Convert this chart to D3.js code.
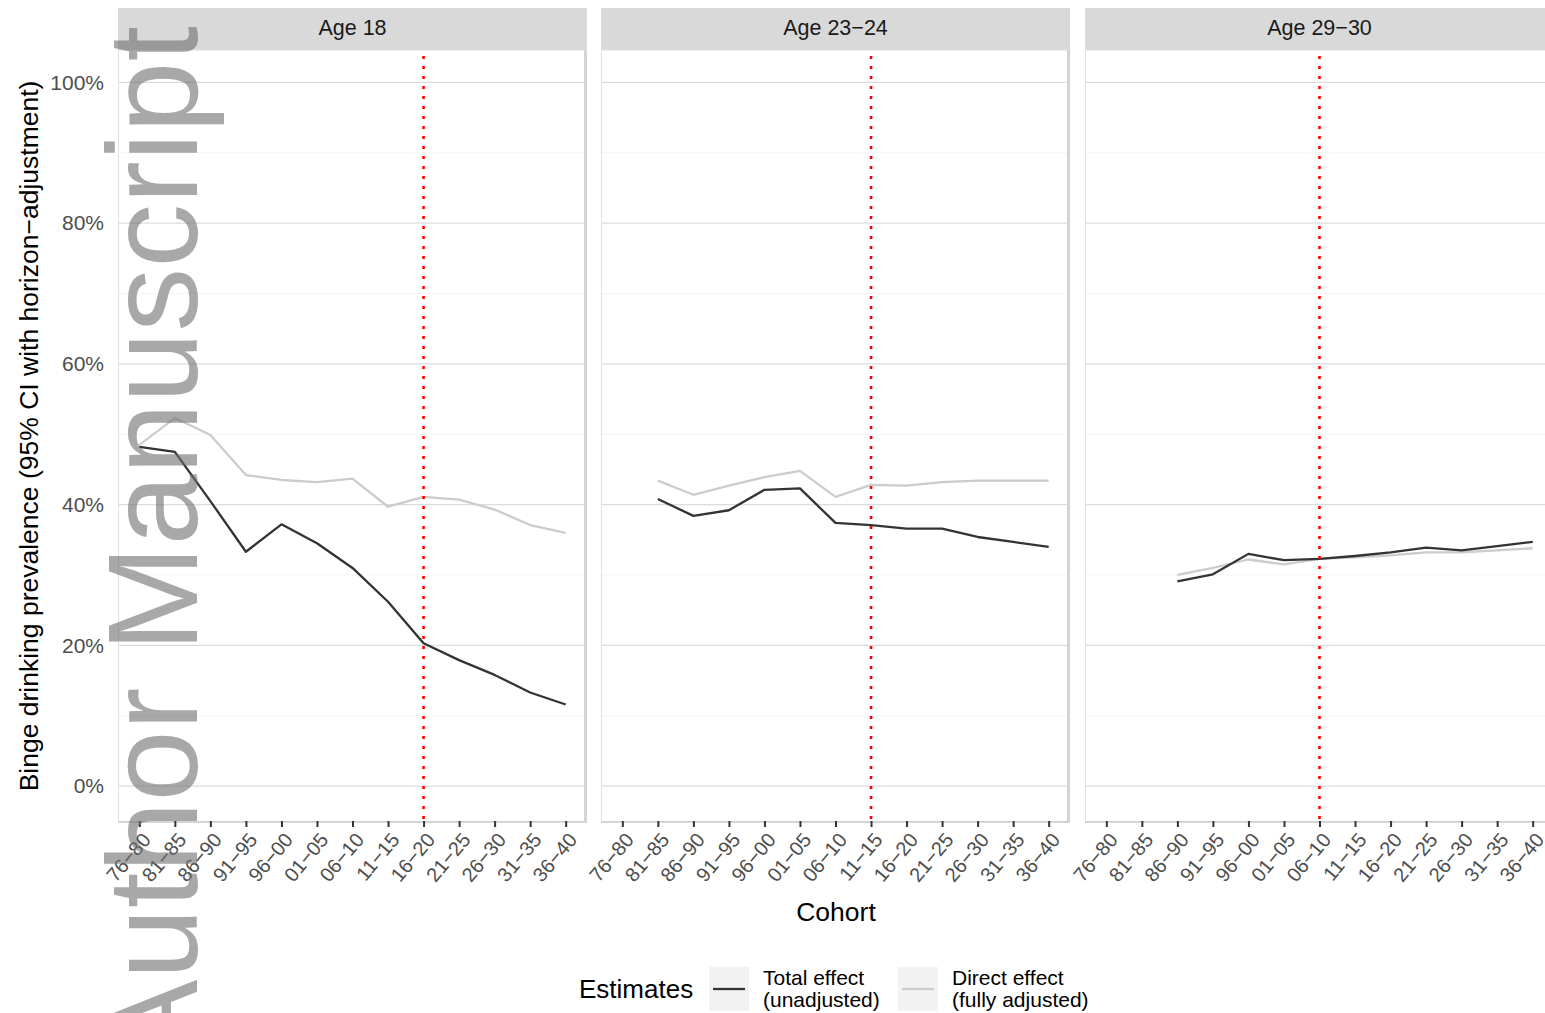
<!DOCTYPE html>
<html lang="en">
<head>
  <meta charset="utf-8">
  <title>Binge drinking prevalence by cohort</title>
  <script src="https://cdn.jsdelivr.net/npm/d3@7"></script>
  <style>
    body { margin: 0; background: #fff; }
    text { font-family: "Liberation Sans", Arial, sans-serif; }
  </style>
</head>
<body>
<div id="stage"></div>
<script>
  // cohorts on the x axis (same for every facet)
  var cohorts = ["76−80", "81−85", "86−90", "91−95", "96−00", "01−05", "06−10",
                 "11−15", "16−20", "21−25", "26−30", "31−35", "36−40"];
  var facets = ["Age 18", "Age 23−24", "Age 29−30"];
  var cutoffs = ["16−20", "11−15", "06−10"]; // red dotted line per facet

  // prevalence in %, null = not estimated
  var totalAge18   = [48.2, 47.5, 40.5, 33.3, 37.2, 34.5, 31.0, 26.2, 20.3, 17.9, 15.8, 13.3, 11.6];
  var directAge18  = [48.5, 52.3, 49.9, 44.2, 43.5, 43.2, 43.7, 39.7, 41.1, 40.7, 39.3, 37.1, 36.0];
  var totalAge23   = [null, 40.8, 38.4, 39.2, 42.1, 42.3, 37.4, 37.1, 36.6, 36.6, 35.4, 34.7, 34.0];
  var directAge23  = [null, 43.4, 41.4, 42.7, 43.9, 44.8, 41.1, 42.8, 42.7, 43.2, 43.4, 43.4, 43.4];
  var totalAge29   = [null, null, 29.1, 30.1, 33.0, 32.1, 32.3, 32.7, 33.2, 33.9, 33.5, 34.1, 34.7];
  var directAge29  = [null, null, 30.0, 31.0, 32.2, 31.5, 32.3, 32.5, 32.8, 33.2, 33.2, 33.5, 33.8];

  var totals = [totalAge18, totalAge23, totalAge29];
  var directs = [directAge18, directAge23, directAge29];

  var yTicks = [0, 20, 40, 60, 80, 100];
  var yMinor = [10, 30, 50, 70, 90];

  var W = 1545, H = 1013;
  var panelX = [118, 601, 1085], panelW = 469;
  var stripTop = 8, panelTop = 50, panelBottom = 822;
  var darkCol = "#333333", lightCol = "#cccccc";

  var svg = d3.select("#stage").append("svg").attr("width", W).attr("height", H);
  svg.append("rect").attr("width", W).attr("height", H).attr("fill", "#fff");

  var y = d3.scaleLinear().domain([-5.1, 104.6]).range([panelBottom, panelTop]);

  facets.forEach(function (name, i) {
    var x0 = panelX[i];
    var x = d3.scalePoint().domain(cohorts).range([x0, x0 + panelW]).padding(0.6);
    var g = svg.append("g");

    // strip
    g.append("rect").attr("x", x0).attr("y", stripTop).attr("width", panelW)
      .attr("height", panelTop - stripTop).attr("fill", "#d9d9d9");
    g.append("text").attr("x", x0 + panelW / 2).attr("y", 35)
      .attr("text-anchor", "middle").attr("font-size", 21.5).attr("fill", "#1a1a1a").text(name);

    // grid
    g.selectAll(".minor").data(yMinor).enter().append("line")
      .attr("x1", x0).attr("x2", x0 + panelW)
      .attr("y1", function (d) { return y(d); }).attr("y2", function (d) { return y(d); })
      .attr("stroke", "#f4f4f4").attr("stroke-width", 1);
    g.selectAll(".major").data(yTicks).enter().append("line")
      .attr("x1", x0).attr("x2", x0 + panelW)
      .attr("y1", function (d) { return y(d); }).attr("y2", function (d) { return y(d); })
      .attr("stroke", "#dcdcdc").attr("stroke-width", 1.3);

    // border (right / bottom look heavier in the original)
    g.append("rect").attr("x", x0 + 0.5).attr("y", panelTop).attr("width", panelW - 1)
      .attr("height", panelBottom - panelTop).attr("fill", "none")
      .attr("stroke", "#e0e0e0").attr("stroke-width", 1);
    g.append("line").attr("x1", x0 + panelW - 1.5).attr("x2", x0 + panelW - 1.5)
      .attr("y1", panelTop).attr("y2", panelBottom + 1)
      .attr("stroke", "#d4d4d4").attr("stroke-width", 3);
    g.append("line").attr("x1", x0).attr("x2", x0 + panelW)
      .attr("y1", panelBottom).attr("y2", panelBottom)
      .attr("stroke", "#d4d4d4").attr("stroke-width", 2);

    // series
    var line = d3.line()
      .defined(function (d) { return d != null; })
      .x(function (d, j) { return x(cohorts[j]); })
      .y(function (d) { return y(d); });
    g.append("path").attr("d", line(directs[i])).attr("fill", "none")
      .attr("stroke", lightCol).attr("stroke-width", 2.3).attr("stroke-linejoin", "round");
    g.append("path").attr("d", line(totals[i])).attr("fill", "none")
      .attr("stroke", darkCol).attr("stroke-width", 2.3).attr("stroke-linejoin", "round");

    // cutoff
    g.append("line").attr("x1", x(cutoffs[i])).attr("x2", x(cutoffs[i]))
      .attr("y1", panelTop + 6).attr("y2", panelBottom)
      .attr("stroke", "#ff0000").attr("stroke-width", 2.6).attr("stroke-dasharray", "3,7");

    // x axis
    var xa = g.append("g").attr("transform", "translate(0," + (panelBottom - 1) + ")")
      .call(d3.axisBottom(x).tickSize(6).tickPadding(0));
    xa.select(".domain").remove();
    xa.selectAll(".tick line").attr("stroke", darkCol).attr("stroke-width", 2);
    xa.selectAll(".tick text")
      .attr("font-family", "Liberation Sans, Arial, sans-serif")
      .attr("font-size", 20).attr("fill", "#4d4d4d")
      .attr("text-anchor", "end").attr("dy", "0.72em")
      .attr("transform", "translate(1,10) rotate(-50)")
      .attr("y", 0).attr("x", 0);
  });

  // y axis labels
  var ya = svg.append("g").attr("transform", "translate(" + (panelX[0] - 10) + ",0)")
    .call(d3.axisLeft(y).tickValues(yTicks).tickSize(0).tickPadding(4)
      .tickFormat(function (d) { return d + "%"; }));
  ya.select(".domain").remove();
  ya.selectAll(".tick text").attr("font-family", "Liberation Sans, Arial, sans-serif")
    .attr("font-size", 21).attr("fill", "#4d4d4d");

  // titles
  svg.append("text").attr("transform", "translate(38," + ((panelTop + panelBottom) / 2) + ") rotate(-90)")
    .attr("text-anchor", "middle").attr("font-size", 26.5).attr("fill", "#000")
    .text("Binge drinking prevalence (95% CI with horizon−adjustment)");
  svg.append("text").attr("x", (panelX[0] + panelX[2] + panelW) / 2).attr("y", 921)
    .attr("text-anchor", "middle").attr("font-size", 26.5).attr("fill", "#000").text("Cohort");

  // legend
  var legend = svg.append("g");
  legend.append("text").attr("x", 579).attr("y", 998).attr("font-size", 26).attr("fill", "#000").text("Estimates");
  var keys = [
    { col: darkCol, x: 709, lines: ["Total effect", "(unadjusted)"] },
    { col: lightCol, x: 898, lines: ["Direct effect", "(fully adjusted)"] }
  ];
  keys.forEach(function (k) {
    legend.append("rect").attr("x", k.x).attr("y", 967).attr("width", 40).attr("height", 44).attr("fill", "#f2f2f2");
    legend.append("line").attr("x1", k.x + 4).attr("x2", k.x + 36).attr("y1", 989).attr("y2", 989)
      .attr("stroke", k.col).attr("stroke-width", 2.3);
    k.lines.forEach(function (t, j) {
      legend.append("text").attr("x", k.x + 54).attr("y", 985 + j * 22).attr("font-size", 21)
        .attr("fill", "#000").text(t);
    });
  });

  // watermark
  svg.append("text").attr("transform", "translate(197,26) rotate(-90)")
    .attr("text-anchor", "end").attr("font-size", 128).attr("fill", "#6e6e6e").attr("fill-opacity", 0.6)
    .text("Author Manuscript");
</script>
</body>
</html>
